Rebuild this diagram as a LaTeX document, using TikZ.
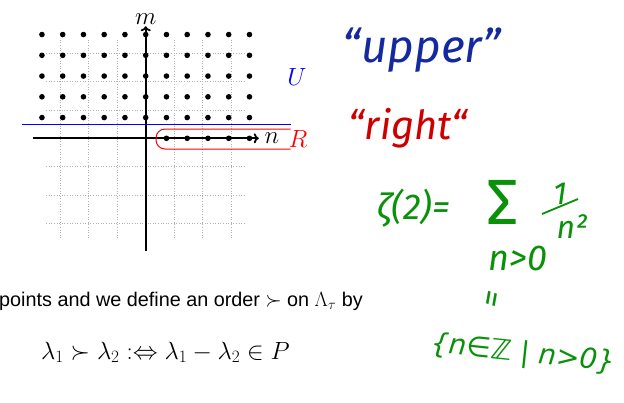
\documentclass[tikz,border=0pt]{standalone}
\usepackage{fontspec}
\usetikzlibrary{arrows.meta}
\setmainfont{Liberation Sans}
\newfontfamily\hand{Fira Sans}
\newfontfamily\symf{DejaVu Sans}
\definecolor{hblue}{RGB}{20,40,160}
\definecolor{hred}{RGB}{205,0,0}
\definecolor{hgreen}{RGB}{10,145,10}
\begin{document}
\begin{tikzpicture}[x=1pt,y=-1pt,
  dotp/.style={fill=black},
  axisline/.style={line width=1.8pt,-{To[length=5pt,width=10pt]}},
  lbl/.style={font=\fontsize{25}{28}\selectfont},
  handblue/.style={text=hblue,font=\hand\itshape\fontsize{46}{50}\selectfont},
  handred/.style={text=hred,font=\hand\itshape\fontsize{40}{44}\selectfont},
  handgreen/.style={text=hgreen,inner sep=0pt,font=\hand\itshape\fontsize{34}{38}\selectfont}]
\useasboundingbox (0,0) rectangle (624,402);
\begin{scope}[shift={(145.7,138.3)},x=20.75pt,y=20.75pt]
  \draw[gray!60,dotted,line width=0.6pt] (-4.8,-4.8) grid (4.8,4.8);
  \foreach \i in {-5,...,5} \foreach \j in {1,...,5} \fill[dotp] (\i,\j) circle (2.8pt);
  \foreach \i in {1,...,5} \fill[dotp] (\i,0) circle (2.8pt);
  \coordinate (xs) at (-5.45,0);
  \coordinate (xe) at (5.45,0);
  \coordinate (ys) at (0,-5.45);
  \coordinate (ye) at (0,5.4);
  \draw[axisline] (xs) -- (xe) node[lbl,right,inner sep=5pt] (nl) {$n$};
  \draw[axisline] (ys) -- (ye) node[lbl,above,inner sep=1pt] (ml) {$m$};
\end{scope}
\coordinate (b1) at (21.7,124.3);
\coordinate (b2) at (290.7,124.3);
\draw[blue,line width=1pt] (b1) -- (b2);
\draw[red,line width=1pt,rounded corners=9pt] (290.7,129) -- (156,129) -- (156,149) -- (290.7,149);
\node[lbl,text=blue] (U) at (297,77) {$U$};
\node[lbl,text=red] (R) at (298,139) {$R$};
% bottom text
\node[anchor=base west,inner sep=0pt,font=\fontsize{19.8}{23}\selectfont] (txt) at (-1,306) {points and we define an order $\succ$ on $\Lambda_\tau$ by};
\node[anchor=base west,inner sep=0pt,font=\fontsize{25}{29}\selectfont] (eq) at (41,359) {$\lambda_1\succ\lambda_2:\Leftrightarrow\lambda_1-\lambda_2\in P$};
% handwriting
\node[handblue] (up) at (422,50) {“upper”};
\node[handred] (ri) at (408,128) {“right“};
\node[handgreen,font=\hand\itshape\fontsize{36}{40}\selectfont,anchor=base] (z) at (414,219) {ζ(2)=};
\node[handgreen,font=\hand\fontsize{64}{70}\selectfont,anchor=base] (sig) at (503,224) {Σ};
\node[handgreen,font=\hand\itshape\fontsize{32}{36}\selectfont,anchor=base] (one) at (560,204) {1};
\node[handgreen,font=\hand\itshape\fontsize{32}{36}\selectfont,anchor=base] (nsq) at (572,238) {n²};
\draw[hgreen,line width=1.8pt] (542,214) -- (578,199);
\node[handgreen,font=\hand\itshape\fontsize{36}{40}\selectfont,anchor=base] (nz) at (518,270) {n>0};
\node[handgreen,rotate=80] (eqv) at (495,300) {=};
\node[handgreen,font=\symf\itshape\fontsize{28}{32}\selectfont,anchor=base west,rotate=-6] (set) at (430,352) {\{n∈ℤ | n>0\}};
\end{tikzpicture}
\end{document}
